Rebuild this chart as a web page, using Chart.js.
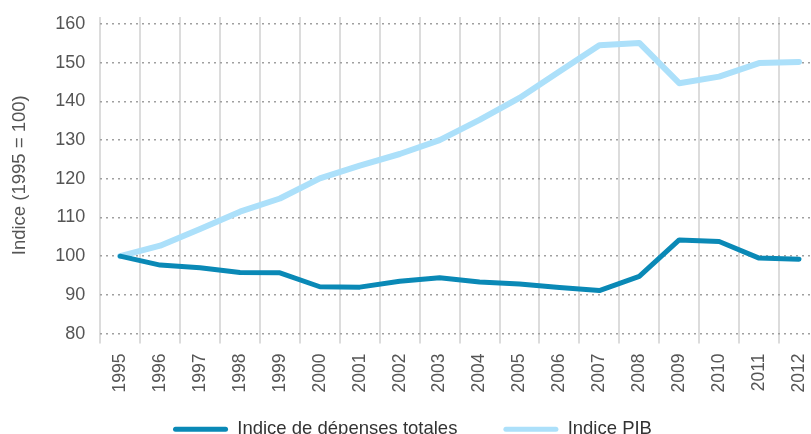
<!DOCTYPE html>
<html>
<head>
<meta charset="utf-8">
<script src="https://cdn.jsdelivr.net/npm/chart.js@4/dist/chart.umd.min.js"></script>
<style>
  html, body { margin: 0; padding: 0; background: #fff; overflow: hidden; }
  #wrap { position: relative; width: 830px; height: 477px; }
</style>
</head>
<body>
<div id="wrap"><canvas id="c"></canvas></div>
<script>
const years = ['1995','1996','1997','1998','1999','2000','2001','2002','2003','2004','2005','2006','2007','2008','2009','2010','2011','2012'];
const depensesTotales = [100, 97.7, 97.0, 95.8, 95.7, 92.1, 92.0, 93.5, 94.4, 93.3, 92.8, 91.9, 91.1, 94.8, 104.2, 103.8, 99.5, 99.2];
const indicePIB = [100, 102.7, 107.0, 111.5, 114.9, 120.1, 123.4, 126.4, 130.0, 135.2, 140.9, 147.7, 154.5, 155.1, 144.7, 146.4, 149.9, 150.2];
const seriesNames = ['Indice de dépenses totales', 'Indice PIB'];
const yAxisTitle = 'Indice (1995 = 100)';

const FONT = "'Liberation Sans', Arial, sans-serif";

const legendShift = {
  id: 'legendShift',
  afterLayout(chart) {
    const lg = chart.legend;
    if (!lg) return;
    const target = 374;
    const d = lg.top - target;
    lg.top -= d;
    lg.bottom -= d;
    lg.left -= 5;
    lg.right -= 5;
  }
};

new Chart(document.getElementById('c'), {
  type: 'line',
  data: {
    labels: years,
    datasets: [
      { label: seriesNames[0], data: depensesTotales, borderColor: '#0a89b6', backgroundColor: '#0a89b6',
        borderWidth: 5, pointRadius: 0, tension: 0, borderCapStyle: 'round', borderJoinStyle: 'round' },
      { label: seriesNames[1], data: indicePIB, borderColor: '#ace0fa', backgroundColor: '#ace0fa',
        borderWidth: 6, pointRadius: 0, tension: 0, borderCapStyle: 'round', borderJoinStyle: 'round' }
    ]
  },
  plugins: [legendShift],
  options: {
    responsive: true,
    maintainAspectRatio: false,
    animation: false,
    layout: { padding: { left: 5, right: 0, top: 17, bottom: 0 } },
    plugins: {
      tooltip: { enabled: false },
      legend: {
        position: 'bottom',
        labels: {
          font: { family: FONT, size: 18.5 },
          color: '#333',
          boxWidth: 55,
          boxHeight: 5,
          padding: 46,
          useBorderRadius: true,
          borderRadius: 2.5,
          generateLabels(chart) {
            const items = Chart.defaults.plugins.legend.labels.generateLabels(chart);
            items.forEach(it => { it.fillStyle = it.strokeStyle; it.lineWidth = 0; });
            return items;
          }
        }
      }
    },
    scales: {
      x: {
        offset: true,
        grid: { offset: true, color: '#dcdcdc', lineWidth: 2, drawTicks: true, tickLength: 10 },
        border: { display: false },
        ticks: { font: { family: FONT, size: 17.5 }, color: '#555', maxRotation: 90, minRotation: 90, padding: 10 }
      },
      y: {
        min: 80,
        max: 161.8,
        grid: { color: '#a0a0a0', lineWidth: 1.5, drawTicks: false, borderDash: [2, 4] },
        border: { display: false, dash: [2, 4] },
        ticks: { stepSize: 10, includeBounds: false, font: { family: FONT, size: 18 }, color: '#555', padding: 15 },
        title: { display: true, text: yAxisTitle, font: { family: FONT, size: 18.5 }, color: '#555',
                 padding: { top: 4, bottom: 9 } },
        afterFit(scale) { scale.paddingTop = 0; }
      }
    }
  }
});
</script>
</body>
</html>
